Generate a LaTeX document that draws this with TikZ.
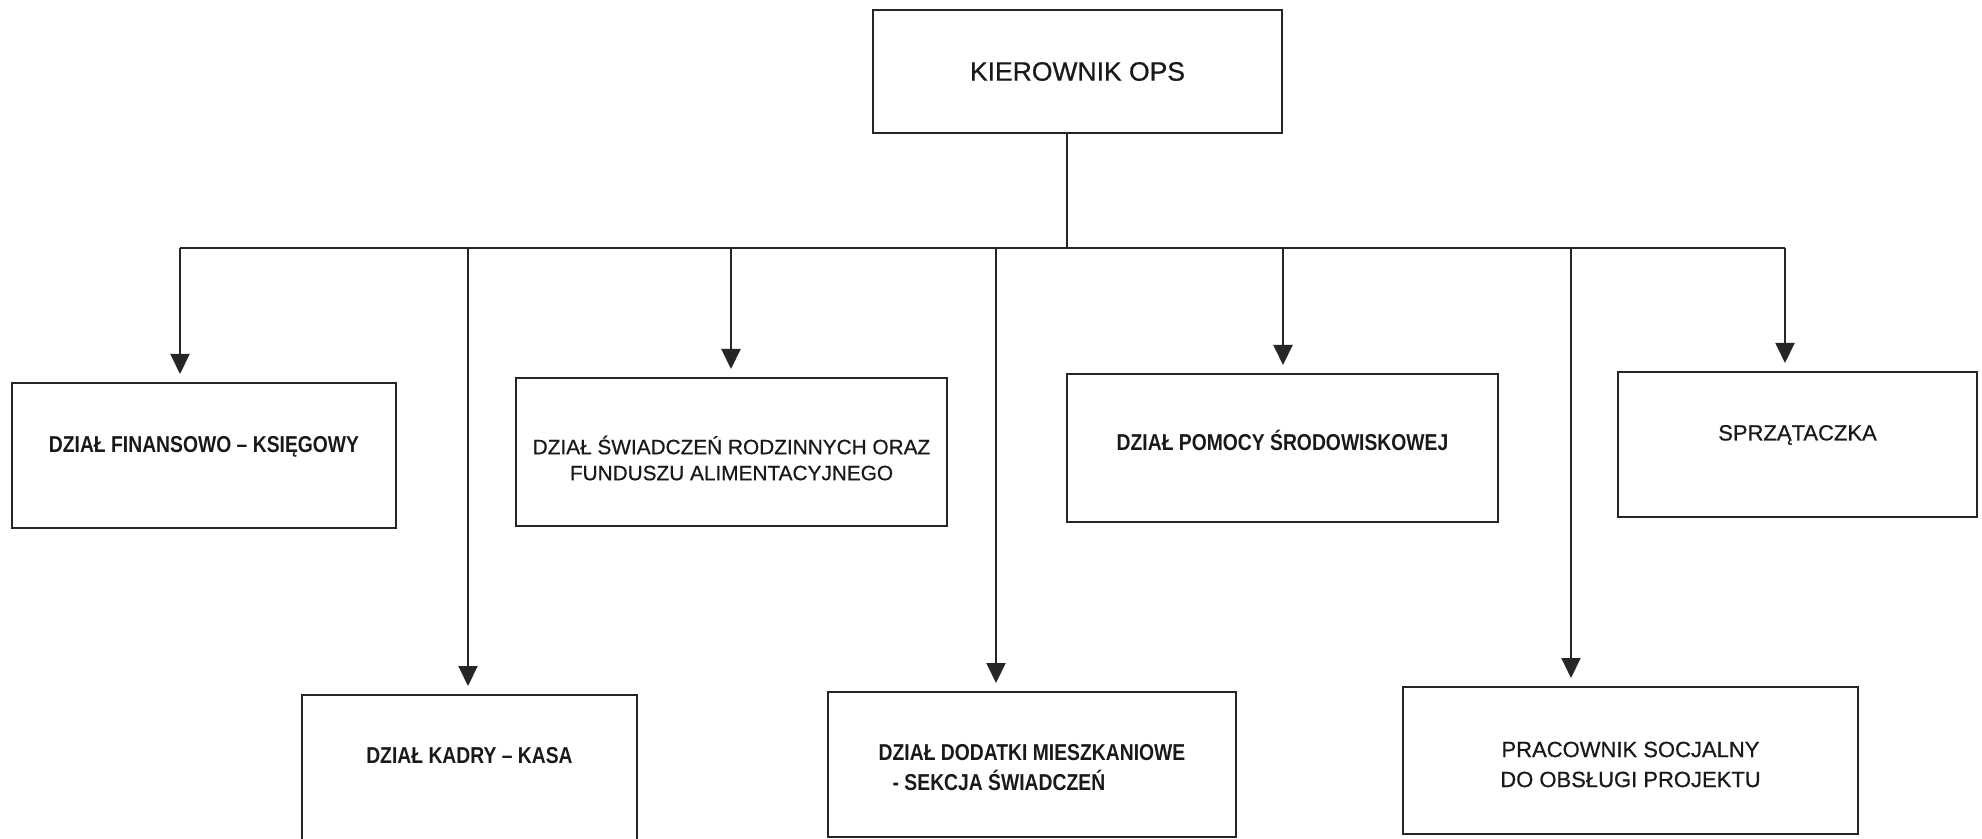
\documentclass[tikz,border=0pt]{standalone}
\usepackage{fontspec}
\setmainfont{Liberation Sans}
\newfontfamily\regfont[FakeBold=0.6]{Liberation Sans}
\newfontfamily\nbfont[FakeStretch=0.84]{Liberation Sans}
\usetikzlibrary{arrows.meta}
\begin{document}
\begin{tikzpicture}[x=0.5pt,y=-0.5pt,
  box/.style n args={2}{draw=black!85, line width=1pt, minimum width=#1, minimum height=#2, inner sep=0pt},
  regtxt/.style={font=\regfont\fontsize{11}{15}\selectfont, align=center, text=black!90},
  swtxt/.style={font=\regfont\fontsize{10.4}{13}\selectfont, align=center, text=black!90},
  nbtxt/.style={font=\nbfont\bfseries\fontsize{11.5}{15}\selectfont, align=center, text=black!90},
  conn/.style={line width=1pt, draw=black!85},
  arr/.style={conn, -{Triangle[width=9.5pt,length=10pt]}, shorten >=4pt}]
\useasboundingbox (0,0) rectangle (1982,839);
\fill[white] (0,0) rectangle (1982,839);
\clip (0,0) rectangle (1982,839);

% boxes
\node[box={204.5pt}{61.5pt}, font=\regfont\fontsize{13.25}{16}\selectfont, text=black!90] (top) at (1077.5,71.5) {KIEROWNIK OPS};
\node[box={192pt}{72.5pt}, label={[nbtxt, yshift=4.25pt]center:DZIAŁ FINANSOWO – KSIĘGOWY}] (fin) at (204,455.5) {};
\node[box={215.5pt}{74pt}, label={[swtxt, yshift=-3pt]center:DZIAŁ ŚWIADCZEŃ RODZINNYCH ORAZ\\FUNDUSZU ALIMENTACYJNEGO}] (swi) at (731.5,452) {};
\node[box={215.5pt}{74pt}, label={[nbtxt, yshift=4pt]center:DZIAŁ POMOCY ŚRODOWISKOWEJ}] (pom) at (1282.5,448) {};
\node[box={179.5pt}{72.5pt}, label={[regtxt, yshift=4.75pt]center:SPRZĄTACZKA}] (spr) at (1797.5,444.5) {};
\node[box={167.5pt}{75pt}, label={[nbtxt, yshift=7pt]center:DZIAŁ KADRY – KASA}] (kad) at (469.5,770) {};
\node[box={204pt}{72.5pt}, label={[nbtxt, align=left, yshift=-1.75pt]center:DZIAŁ DODATKI MIESZKANIOWE\\\hspace*{7pt}- SEKCJA ŚWIADCZEŃ}] (dod) at (1032,764.5) {};
\node[box={227.5pt}{73.5pt}, label={[regtxt, yshift=-2pt]center:PRACOWNIK SOCJALNY\\DO OBSŁUGI PROJEKTU}] (pra) at (1630.5,760.5) {};

% bus
\coordinate (bT) at (1067,248);
\coordinate (bL) at (180,248);
\coordinate (bR) at (1785,248);
\draw[conn] (bT |- top.south) -- (bT);
\draw[conn] (bL) -- (bR);

% branch points
\coordinate (aFin) at (180,248);
\coordinate (aKad) at (468,248);
\coordinate (aSwi) at (731,248);
\coordinate (aDod) at (996,248);
\coordinate (aPom) at (1283,248);
\coordinate (aPra) at (1571,248);
\coordinate (aSpr) at (1785,248);

\draw[arr] (aFin) -- (aFin |- fin.north);
\draw[arr] (aKad) -- (aKad |- kad.north);
\draw[arr] (aSwi) -- (aSwi |- swi.north);
\draw[arr] (aDod) -- (aDod |- dod.north);
\draw[arr] (aPom) -- (aPom |- pom.north);
\draw[arr] (aPra) -- (aPra |- pra.north);
\draw[arr] (aSpr) -- (aSpr |- spr.north);
\end{tikzpicture}
\end{document}
